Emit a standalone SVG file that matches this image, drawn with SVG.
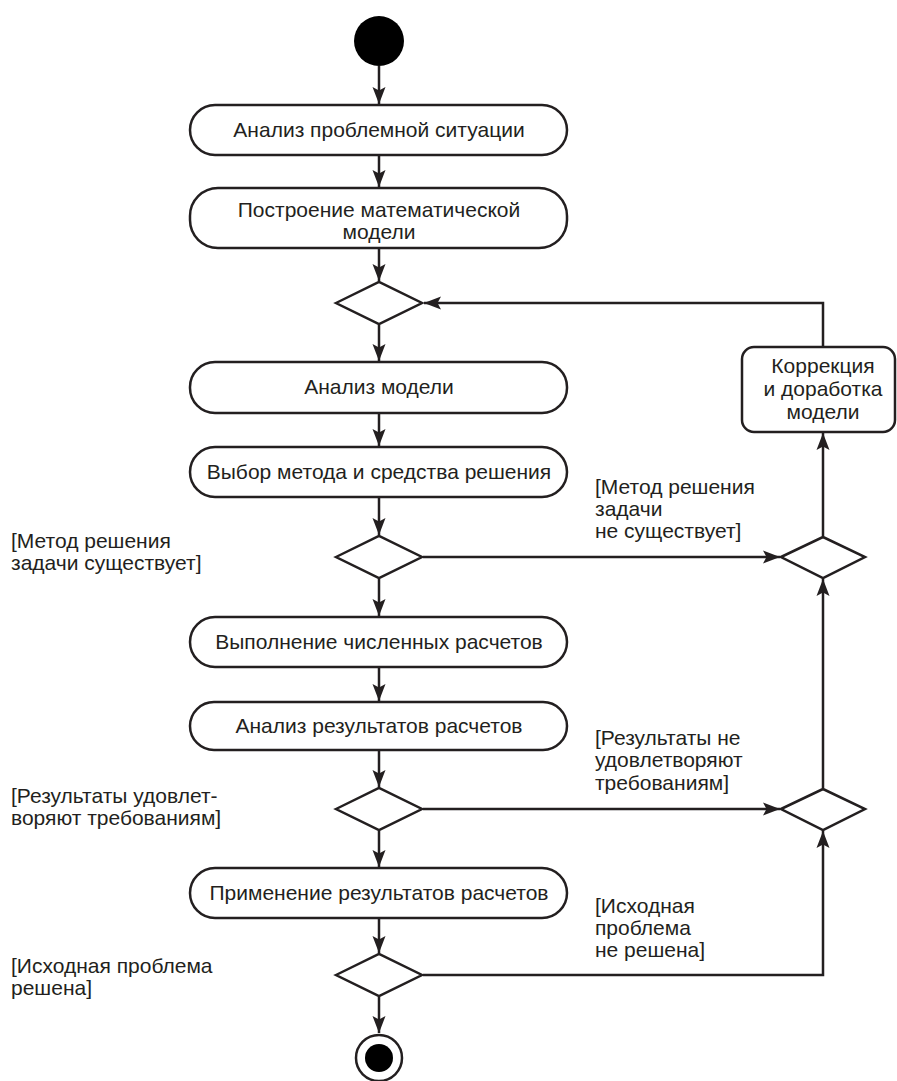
<svg xmlns="http://www.w3.org/2000/svg" width="897" height="1081" viewBox="0 0 897 1081">
<defs>
<marker id="arr" markerUnits="userSpaceOnUse" markerWidth="18" markerHeight="14" refX="17" refY="7" orient="auto">
<path d="M0,0.5 L17,7 L0,13.5 L3.5,7 Z" fill="#231f20"/>
</marker>
<style>
.act{fill:#fff;stroke:#231f20;stroke-width:2.5}
.dec{fill:#fff;stroke:#231f20;stroke-width:2.5}
.t{font-family:"Liberation Sans",Arial,sans-serif;font-size:21px;fill:#231f20}
.c{text-anchor:middle}
.e{fill:none;stroke:#231f20;stroke-width:2.5;marker-end:url(#arr)}
</style>
</defs>
<rect width="897" height="1081" fill="#fff"/>
<g id="connectors">
<line class="e" x1="379" y1="66" x2="379" y2="104"/>
<line class="e" x1="379" y1="156" x2="379" y2="187"/>
<line class="e" x1="379" y1="249" x2="379" y2="281"/>
<line class="e" x1="379" y1="325" x2="379" y2="361"/>
<line class="e" x1="379" y1="414" x2="379" y2="446"/>
<line class="e" x1="379" y1="498" x2="379" y2="535"/>
<line class="e" x1="379" y1="579" x2="379" y2="616"/>
<line class="e" x1="379" y1="668" x2="379" y2="701"/>
<line class="e" x1="379" y1="751" x2="379" y2="787"/>
<line class="e" x1="379" y1="831" x2="379" y2="867"/>
<line class="e" x1="379" y1="919" x2="379" y2="953"/>
<line class="e" x1="379" y1="997" x2="379" y2="1033"/>
<line class="e" x1="423" y1="557" x2="780" y2="557"/>
<line class="e" x1="423" y1="809" x2="780" y2="809"/>
<line class="e" x1="823" y1="536" x2="823" y2="433"/>
<line class="e" x1="823" y1="788" x2="823" y2="579"/>
<polyline class="e" points="423,975 823,975 823,831"/>
<polyline class="e" points="823,347 823,303 424,303"/>
</g>
<g id="start"><circle cx="379" cy="41" r="25" fill="#000"/></g>
<g id="a1"><rect class="act" x="190" y="105" width="377" height="50" rx="25"/><text class="t c" x="379" y="137">Анализ проблемной ситуации</text></g>
<g id="a2"><rect class="act" x="190" y="188" width="377" height="60" rx="28"/><text class="t c" x="379" y="217">Построение математической</text><text class="t c" x="379" y="239">модели</text></g>
<g id="d1"><polygon class="dec" points="336,303 379,282 422,303 379,324"/></g>
<g id="a3"><rect class="act" x="190" y="362" width="377" height="51" rx="25"/><text class="t c" x="379" y="394">Анализ модели</text></g>
<g id="a4"><rect class="act" x="190" y="447" width="377" height="50" rx="25"/><text class="t c" x="379" y="479">Выбор метода и средства решения</text></g>
<g id="d2"><polygon class="dec" points="336,557 379,536 422,557 379,578"/></g>
<g id="a5"><rect class="act" x="190" y="617" width="377" height="50" rx="25"/><text class="t c" x="379" y="649">Выполнение численных расчетов</text></g>
<g id="a6"><rect class="act" x="190" y="702" width="377" height="48" rx="24"/><text class="t c" x="379" y="733">Анализ результатов расчетов</text></g>
<g id="d3"><polygon class="dec" points="336,809 379,788 422,809 379,830"/></g>
<g id="a7"><rect class="act" x="190" y="868" width="377" height="50" rx="25"/><text class="t c" x="379" y="900">Применение результатов расчетов</text></g>
<g id="d4"><polygon class="dec" points="336,975 379,954 422,975 379,996"/></g>
<g id="end"><circle cx="379" cy="1058" r="23" fill="#fff" stroke="#231f20" stroke-width="2.5"/><circle cx="379" cy="1058" r="14" fill="#000"/></g>
<g id="corr"><rect class="act" x="742" y="347" width="153" height="85" rx="12"/><text class="t c" x="823" y="373">Коррекция</text><text class="t c" x="823" y="396">и доработка</text><text class="t c" x="823" y="419">модели</text></g>
<g id="dr1"><polygon class="dec" points="781,557 823,537 865,557 823,578"/></g>
<g id="dr2"><polygon class="dec" points="781,809 823,789 865,809 823,830"/></g>
<g id="labels">
<text class="t" x="595" y="494">[Метод решения</text>
<text class="t" x="595" y="516">задачи</text>
<text class="t" x="595" y="538">не существует]</text>
<text class="t" x="11" y="548">[Метод решения</text>
<text class="t" x="11" y="570">задачи существует]</text>
<text class="t" x="595" y="745">[Результаты не</text>
<text class="t" x="595" y="767">удовлетворяют</text>
<text class="t" x="595" y="790">требованиям]</text>
<text class="t" x="11" y="803">[Результаты удовлет-</text>
<text class="t" x="11" y="825">воряют требованиям]</text>
<text class="t" x="595" y="913">[Исходная</text>
<text class="t" x="595" y="935">проблема</text>
<text class="t" x="595" y="957">не решена]</text>
<text class="t" x="11" y="973">[Исходная проблема</text>
<text class="t" x="11" y="995">решена]</text>
</g>
</svg>
